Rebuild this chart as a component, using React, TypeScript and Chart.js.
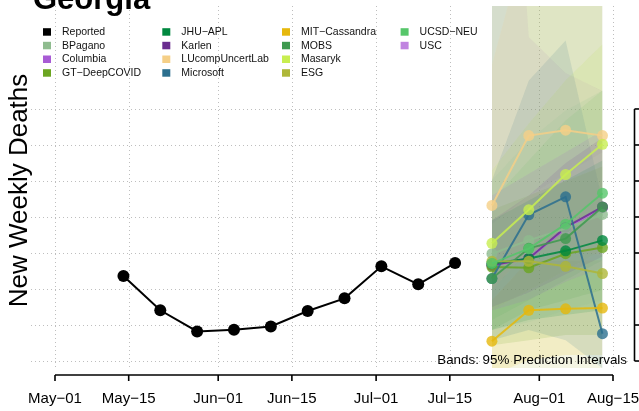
import React, { useEffect, useRef } from "react";
import { Chart, registerables } from "chart.js";
Chart.register(...registerables);

// ---- data ----
const reportedDays = [13, 20, 27, 34, 41, 48, 55, 62, 69, 76];
const reportedDeaths = [336, 241, 182, 187, 196, 239, 274, 363, 313, 372];
const forecastDays = [83, 90, 97, 104];

const xTickDays = [0, 14, 31, 45, 61, 75, 92, 106];
const xTickLabels = ["May\u221201", "May\u221215", "Jun\u221201", "Jun\u221215", "Jul\u221201", "Jul\u221215", "Aug\u221201", "Aug\u221215"];
const yTickValues = [100, 200, 300, 400, 500, 600, 700, 800];

const modelNames = ["BPagano", "Columbia", "GT\u2212DeepCOVID", "JHU\u2212APL", "Karlen", "LUcompUncertLab", "Microsoft", "MIT\u2212Cassandra", "MOBS", "Masaryk", "ESG", "UCSD\u2212NEU", "USC"];
const modelColors = ["#8FBC8F", "#A85BD5", "#6BA521", "#00883F", "#6A2D8F", "#F5CF87", "#2C6F8E", "#E6B80C", "#3E9A4F", "#C8EE50", "#AEB738", "#56C66A", "#C084E0"];

const bpaganoMid = [398, 435, 468, 507];
const bpaganoLo = [186, 208, 241, 269];
const bpaganoHi = [602, 713, 796, 851];
const columbiaMid = [366, 384, 468, 526];
const columbiaLo = [240, 270, 320, 360];
const columbiaHi = [560, 620, 680, 740];
const gtMid = [361, 359, 398, 415];
const gtLo = [144, 158, 172, 172];
const gtHi = [520, 560, 600, 640];
const jhuMid = [371, 385, 406, 435];
const jhuLo = [186, 214, 228, 241];
const jhuHi = [491, 546, 602, 657];
const karlenMid = [366, 385, 471, 528];
const karlenLo = [250, 290, 340, 390];
const karlenHi = [491, 560, 650, 720];
const lucompMid = [532, 726, 741, 726];
const lucompLo = [297, 408, 408, 394];
const lucompHi = [923, 1300, 1300, 1300];
const microsoftMid = [329, 506, 556, 176];
const microsoftLo = [158, 186, 158, 80];
const microsoftHi = [602, 879, 990, 546];
const mitMid = [155, 241, 245, 247];
const mitLo = [61, 103, 117, 117];
const mitHi = [269, 380, 380, 380];
const mobsMid = [329, 413, 440, 528];
const mobsLo = [186, 241, 269, 297];
const mobsHi = [1100, 1300, 1400, 1500];
const masarykMid = [427, 520, 618, 702];
const masarykLo = [241, 297, 352, 408];
const masarykHi = [629, 760, 880, 980];
const esgMid = [377, 377, 363, 343];
const esgLo = [75, 75, 75, 75];
const esgHi = [1150, 1250, 1300, 1300];
const ucsdMid = [371, 412, 480, 566];
const ucsdLo = [214, 269, 325, 380];
const ucsdHi = [546, 657, 768, 851];
const uscMid = [368, 386, 470, 527];
const uscLo = [480, 560, 620, 680];
const uscHi = [2500, 1000, 900, 850];

const mids = [bpaganoMid, columbiaMid, gtMid, jhuMid, karlenMid, lucompMid, microsoftMid, mitMid, mobsMid, masarykMid, esgMid, ucsdMid, uscMid];
const los = [bpaganoLo, columbiaLo, gtLo, jhuLo, karlenLo, lucompLo, microsoftLo, mitLo, mobsLo, masarykLo, esgLo, ucsdLo, uscLo];
const his = [bpaganoHi, columbiaHi, gtHi, jhuHi, karlenHi, lucompHi, microsoftHi, mitHi, mobsHi, masarykHi, esgHi, ucsdHi, uscHi];
// drawing priority of forecast lines (higher = drawn later, on top)
const lineLayer = [3, 0, 4, 5, 2, 6, 7, 8, 9, 10, 11, 12, 1];

const legendOrder = ["Reported", "BPagano", "Columbia", "GT\u2212DeepCOVID", "JHU\u2212APL", "Karlen", "LUcompUncertLab", "Microsoft", "MIT\u2212Cassandra", "MOBS", "Masaryk", "ESG", "UCSD\u2212NEU", "USC"];

const FONT = "'Liberation Sans', Arial, Helvetica, sans-serif";

function rgba(hex: string, a: number) {
  const n = parseInt(hex.slice(1), 16);
  return `rgba(${(n >> 16) & 255},${(n >> 8) & 255},${n & 255},${a})`;
}

const decorPlugin = {
  id: "decor",
  beforeDatasetsDraw(chart: any) {
    const { ctx, chartArea, scales } = chart;
    const x = scales.x, y = scales.y;
    ctx.save();
    ctx.strokeStyle = "#BEBEBE";
    ctx.lineWidth = 1;
    ctx.setLineDash([1, 3]);
    for (const d of xTickDays) {
      const px = Math.round(x.getPixelForValue(d)) + 0.5;
      ctx.beginPath();
      ctx.moveTo(px, chartArea.top);
      ctx.lineTo(px, chartArea.bottom);
      ctx.stroke();
    }
    for (const v of yTickValues) {
      const py = Math.round(y.getPixelForValue(v)) + 0.5;
      ctx.beginPath();
      ctx.moveTo(chartArea.left, py);
      ctx.lineTo(chartArea.right, py);
      ctx.stroke();
    }
    ctx.restore();
  },
  afterDraw(chart: any) {
    const { ctx, chartArea, scales } = chart;
    const x = scales.x, y = scales.y;
    ctx.save();
    ctx.setLineDash([]);
    ctx.strokeStyle = "#000";
    ctx.fillStyle = "#000";
    ctx.lineWidth = 1.6;
    const axY = chartArea.bottom + 7;
    const x0 = x.getPixelForValue(xTickDays[0]);
    const x1 = x.getPixelForValue(xTickDays[xTickDays.length - 1]);
    ctx.beginPath();
    ctx.moveTo(x0, axY);
    ctx.lineTo(x1, axY);
    ctx.stroke();
    ctx.font = `15px ${FONT}`;
    ctx.textAlign = "center";
    ctx.textBaseline = "alphabetic";
    xTickDays.forEach((d, i) => {
      const px = x.getPixelForValue(d);
      ctx.beginPath();
      ctx.moveTo(px, axY);
      ctx.lineTo(px, axY + 6);
      ctx.stroke();
      ctx.fillText(xTickLabels[i], px, 403);
    });
    const axX = chartArea.right + 5.5;
    const yTop = y.getPixelForValue(yTickValues[yTickValues.length - 1]);
    const yBot = y.getPixelForValue(yTickValues[0]);
    ctx.beginPath();
    ctx.moveTo(axX, yTop);
    ctx.lineTo(axX, yBot);
    ctx.stroke();
    for (const v of yTickValues) {
      const py = y.getPixelForValue(v);
      ctx.beginPath();
      ctx.moveTo(axX, py);
      ctx.lineTo(axX + 7, py);
      ctx.stroke();
    }
    ctx.save();
    ctx.translate(27, 190.5);
    ctx.rotate(-Math.PI / 2);
    ctx.font = `26px ${FONT}`;
    ctx.textAlign = "center";
    ctx.fillText("New Weekly Deaths", 0, 0);
    ctx.restore();
    ctx.font = `bold 31px ${FONT}`;
    ctx.textAlign = "left";
    ctx.fillText("Georgia", 33, 9);
    ctx.font = `13.4px ${FONT}`;
    ctx.textAlign = "right";
    ctx.fillText("Bands: 95% Prediction Intervals", 627, 364);
    const colX = [43, 162.3, 282, 400.6];
    const rowY = [31.7, 45.3, 59, 72.7];
    ctx.font = `10.5px ${FONT}`;
    ctx.textAlign = "left";
    ctx.textBaseline = "middle";
    legendOrder.forEach((name, i) => {
      const c = Math.floor(i / 4), r = i % 4;
      const color = name === "Reported" ? "#000000" : modelColors[modelNames.indexOf(name)];
      ctx.fillStyle = color;
      ctx.fillRect(colX[c], rowY[r] - 3.5, 8, 7.5);
      ctx.fillStyle = "#111";
      ctx.fillText(name, colX[c] + 19, rowY[r] + 0.5);
    });
    ctx.restore();
  },
};

export default function App() {
  const ref = useRef<HTMLCanvasElement | null>(null);
  useEffect(() => {
    document.body.style.margin = "0";
    const datasets: any[] = [];
    modelNames.forEach((name, i) => {
      const col = modelColors[i];
      datasets.push({
        label: name + " hi",
        data: forecastDays.map((d, k) => ({ x: d, y: his[i][k] })),
        borderWidth: 0,
        pointRadius: 0,
        backgroundColor: rgba(col, 0.14),
        borderColor: "rgba(0,0,0,0)",
        fill: "+1",
        order: 200,
      });
      datasets.push({
        label: name + " lo",
        data: forecastDays.map((d, k) => ({ x: d, y: los[i][k] })),
        borderWidth: 0,
        pointRadius: 0,
        borderColor: "rgba(0,0,0,0)",
        fill: false,
        order: 200,
      });
    });
    modelNames.forEach((name, i) => {
      const col = modelColors[i];
      datasets.push({
        label: name,
        data: forecastDays.map((d, k) => ({ x: d, y: mids[i][k] })),
        borderColor: rgba(col, 0.85),
        borderWidth: 2,
        pointRadius: 5.5,
        pointBorderWidth: 0,
        pointBackgroundColor: rgba(col, 0.8),
        fill: false,
        order: 100 - lineLayer[i],
      });
    });
    datasets.push({
      label: "Reported",
      data: reportedDays.map((d, k) => ({ x: d, y: reportedDeaths[k] })),
      borderColor: "#000",
      borderWidth: 2,
      pointRadius: 6,
      pointBorderWidth: 0,
      pointBackgroundColor: "#000",
      fill: false,
      order: 0,
    });

    const chart = new Chart(ref.current!, {
      type: "line",
      data: { datasets },
      options: {
        animation: false,
        responsive: false,
        devicePixelRatio: 1,
        layout: { padding: { left: 31, right: 10, top: 6, bottom: 43 } },
        plugins: { legend: { display: false }, tooltip: { enabled: false }, title: { display: false } },
        scales: {
          x: { type: "linear", min: -4.559, max: 109.04, display: false },
          y: { type: "linear", min: 80.6, max: 1086, display: false },
        },
      },
      plugins: [decorPlugin],
    });
    return () => chart.destroy();
  }, []);
  return <canvas ref={ref} width={639} height={411} style={{ display: "block" }} />;
}
